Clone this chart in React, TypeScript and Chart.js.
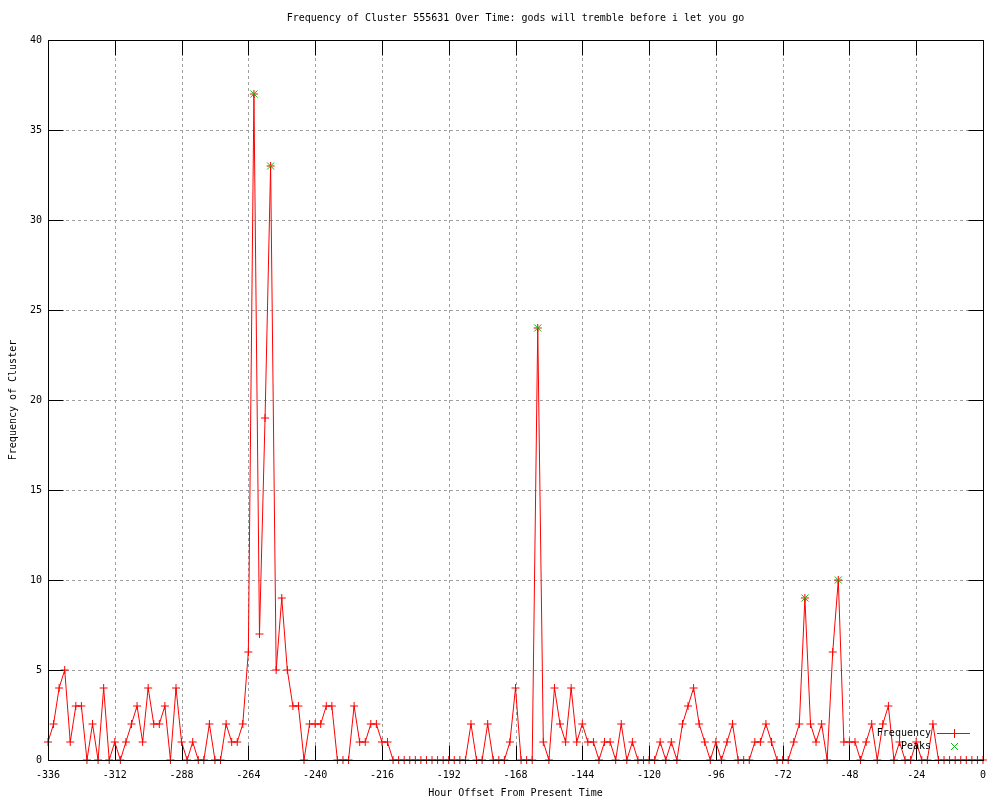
import React, { useEffect, useRef } from 'react';
import { Chart, registerables } from 'chart.js';

Chart.register(...registerables);

const TITLE = 'Frequency of Cluster 555631 Over Time: gods will tremble before i let you go';
const X_LABEL = 'Hour Offset From Present Time';
const Y_LABEL = 'Frequency of Cluster';

const HOURS = [
  -336, -334, -332, -330, -328, -326, -324, -322, -320, -318,
  -316, -314, -312, -310, -308, -306, -304, -302, -300, -298,
  -296, -294, -292, -290, -288, -286, -284, -282, -280, -278,
  -276, -274, -272, -270, -268, -266, -264, -262, -260, -258,
  -256, -254, -252, -250, -248, -246, -244, -242, -240, -238,
  -236, -234, -232, -230, -228, -226, -224, -222, -220, -218,
  -216, -214, -212, -210, -208, -206, -204, -202, -200, -198,
  -196, -194, -192, -190, -188, -186, -184, -182, -180, -178,
  -176, -174, -172, -170, -168, -166, -164, -162, -160, -158,
  -156, -154, -152, -150, -148, -146, -144, -142, -140, -138,
  -136, -134, -132, -130, -128, -126, -124, -122, -120, -118,
  -116, -114, -112, -110, -108, -106, -104, -102, -100, -98,
  -96, -94, -92, -90, -88, -86, -84, -82, -80, -78,
  -76, -74, -72, -70, -68, -66, -64, -62, -60, -58,
  -56, -54, -52, -50, -48, -46, -44, -42, -40, -38,
  -36, -34, -32, -30, -28, -26, -24, -22, -20, -18,
  -16, -14, -12, -10, -8, -6, -4, -2, 0,
];

const FREQUENCY = [
  1, 2, 4, 5, 1, 3, 3, 0, 2, 0,
  4, 0, 1, 0, 1, 2, 3, 1, 4, 2,
  2, 3, 0, 4, 1, 0, 1, 0, 0, 2,
  0, 0, 2, 1, 1, 2, 6, 37, 7, 19,
  33, 5, 9, 5, 3, 3, 0, 2, 2, 2,
  3, 3, 0, 0, 0, 3, 1, 1, 2, 2,
  1, 1, 0, 0, 0, 0, 0, 0, 0, 0,
  0, 0, 0, 0, 0, 0, 2, 0, 0, 2,
  0, 0, 0, 1, 4, 0, 0, 0, 24, 1,
  0, 4, 2, 1, 4, 1, 2, 1, 1, 0,
  1, 1, 0, 2, 0, 1, 0, 0, 0, 0,
  1, 0, 1, 0, 2, 3, 4, 2, 1, 0,
  1, 0, 1, 2, 0, 0, 0, 1, 1, 2,
  1, 0, 0, 0, 1, 2, 9, 2, 1, 2,
  0, 6, 10, 1, 1, 1, 0, 1, 2, 0,
  2, 3, 0, 1, 0, 0, 1, 0, 0, 2,
  0, 0, 0, 0, 0, 0, 0, 0, 0,
];

const PEAK_HOURS = [-262, -256, -160, -64, -52];
const PEAK_VALUES = [37, 33, 24, 9, 10];

const X_TICKS = [-336, -312, -288, -264, -240, -216, -192, -168, -144, -120, -96, -72, -48, -24, 0];
const Y_TICKS = [0, 5, 10, 15, 20, 25, 30, 35, 40];

const RED = '#ff0000';
const GREEN = '#00c000';
const GRID = '#a0a0a0';
const FONT = '"DejaVu Sans Mono", "Liberation Mono", monospace';

const framePlugin = {
  id: 'gnuplotFrame',
  beforeDatasetsDraw(chart: any) {
    const { ctx, chartArea: a, scales } = chart;
    ctx.save();
    ctx.strokeStyle = GRID;
    ctx.lineWidth = 1;
    ctx.setLineDash([3, 3]);
    X_TICKS.forEach((v, i) => {
      if (i === 0 || i === X_TICKS.length - 1) return;
      const px = Math.round(scales.x.getPixelForValue(v)) + 0.5;
      ctx.beginPath();
      ctx.moveTo(px, a.top);
      ctx.lineTo(px, a.bottom);
      ctx.stroke();
    });
    Y_TICKS.forEach((v, i) => {
      if (i === 0 || i === Y_TICKS.length - 1) return;
      const py = Math.round(scales.y.getPixelForValue(v)) + 0.5;
      ctx.beginPath();
      ctx.moveTo(a.left, py);
      ctx.lineTo(a.right, py);
      ctx.stroke();
    });
    ctx.restore();
  },
  afterDatasetsDraw(chart: any) {
    const { ctx, chartArea: a, scales } = chart;
    const L = Math.round(a.left) + 0.5;
    const R = Math.round(a.right) + 0.5;
    const T = Math.round(a.top) + 0.5;
    const B = Math.round(a.bottom) + 0.5;
    ctx.save();
    ctx.strokeStyle = '#000';
    ctx.lineWidth = 1;
    ctx.setLineDash([]);
    ctx.beginPath();
    ctx.rect(L, T, R - L, B - T);
    ctx.stroke();
    const tl = 15;
    ctx.beginPath();
    X_TICKS.forEach((v) => {
      const px = Math.round(scales.x.getPixelForValue(v)) + 0.5;
      ctx.moveTo(px, B);
      ctx.lineTo(px, B - tl);
      ctx.moveTo(px, T);
      ctx.lineTo(px, T + tl);
    });
    Y_TICKS.forEach((v) => {
      const py = Math.round(scales.y.getPixelForValue(v)) + 0.5;
      ctx.moveTo(L, py);
      ctx.lineTo(L + tl, py);
      ctx.moveTo(R, py);
      ctx.lineTo(R - tl, py);
    });
    ctx.stroke();
    ctx.restore();
  },
  afterDraw(chart: any) {
    const { ctx, chartArea: a } = chart;
    ctx.save();
    ctx.fillStyle = '#000';
    ctx.font = `10px ${FONT}`;
    ctx.textBaseline = 'middle';
    ctx.textAlign = 'center';
    const cx = (a.left + a.right) / 2;
    ctx.fillText(TITLE, cx, 18);
    ctx.fillText(X_LABEL, cx, 793);
    ctx.save();
    ctx.translate(13, (a.top + a.bottom) / 2);
    ctx.rotate(-Math.PI / 2);
    ctx.fillText(Y_LABEL, 0, 0);
    ctx.restore();

    // key
    ctx.textAlign = 'right';
    ctx.fillText('Frequency', 931, 733);
    ctx.fillText('Peaks', 931, 746);
    ctx.strokeStyle = RED;
    ctx.lineWidth = 1;
    ctx.beginPath();
    ctx.moveTo(937, 733.5);
    ctx.lineTo(970, 733.5);
    ctx.moveTo(954.5, 729);
    ctx.lineTo(954.5, 738);
    ctx.stroke();
    ctx.strokeStyle = GREEN;
    ctx.beginPath();
    ctx.moveTo(951, 743);
    ctx.lineTo(958, 750);
    ctx.moveTo(958, 743);
    ctx.lineTo(951, 750);
    ctx.stroke();
    ctx.restore();
  },
};

export default function App() {
  const ref = useRef<HTMLCanvasElement | null>(null);

  useEffect(() => {
    document.body.style.margin = '0';
    const canvas = ref.current;
    if (!canvas) return;
    const freqPoints = HOURS.map((h, i) => ({ x: h, y: FREQUENCY[i] }));
    const peakPoints = PEAK_HOURS.map((h, i) => ({ x: h, y: PEAK_VALUES[i] }));
    const tickFont = { family: FONT, size: 10 };
    const chart = new Chart(canvas, {
      type: 'line',
      data: {
        datasets: [
          {
            label: 'Peaks',
            data: peakPoints,
            showLine: false,
            borderColor: GREEN,
            backgroundColor: GREEN,
            pointStyle: 'crossRot',
            pointRadius: 5,
            pointBorderWidth: 1,
            pointBorderColor: GREEN,
            clip: false,
          } as any,
          {
            label: 'Frequency',
            data: freqPoints,
            borderColor: RED,
            backgroundColor: RED,
            borderWidth: 1,
            tension: 0,
            pointStyle: 'cross',
            pointRadius: 4,
            pointBorderWidth: 1,
            pointBorderColor: RED,
            clip: false,
          } as any,
        ],
      },
      options: {
        animation: false,
        responsive: false,
        devicePixelRatio: 1,
        events: [],
        layout: { padding: { top: 40, right: 17, left: 0, bottom: 0 } },
        plugins: {
          legend: { display: false },
          title: { display: false },
          tooltip: { enabled: false },
        },
        scales: {
          x: {
            type: 'linear',
            min: -336,
            max: 0,
            grid: { display: false, drawTicks: false },
            border: { display: false },
            ticks: {
              font: tickFont,
              color: '#000',
              padding: 9,
              maxRotation: 0,
              autoSkip: false,
              callback: (v: any) => String(v),
            },
            afterBuildTicks: (s: any) => {
              s.ticks = X_TICKS.map((v) => ({ value: v }));
            },
            afterFit: (s: any) => {
              s.height = 40;
            },
          },
          y: {
            type: 'linear',
            min: 0,
            max: 40,
            grid: { display: false, drawTicks: false },
            border: { display: false },
            ticks: {
              font: tickFont,
              color: '#000',
              padding: 6,
              autoSkip: false,
              callback: (v: any) => String(v),
            },
            afterBuildTicks: (s: any) => {
              s.ticks = Y_TICKS.map((v) => ({ value: v }));
            },
            afterFit: (s: any) => {
              s.width = 48;
            },
          },
        },
      } as any,
      plugins: [framePlugin],
    });
    return () => chart.destroy();
  }, []);

  return (
    <div style={{ position: 'fixed', left: 0, top: 0, width: 1000, height: 800, background: '#fff' }}>
      <canvas ref={ref} width={1000} height={800} style={{ width: 1000, height: 800, display: 'block' }} />
    </div>
  );
}
